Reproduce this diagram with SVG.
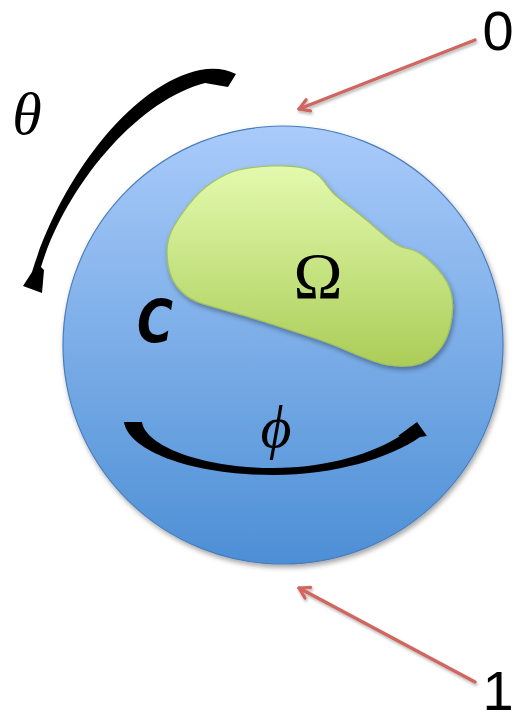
<svg xmlns="http://www.w3.org/2000/svg" width="519" height="723" viewBox="0 0 519 723">
<defs>
<linearGradient id="gBall" x1="0" y1="0" x2="0" y2="1">
<stop offset="0" stop-color="#a9cbfa"/>
<stop offset="1" stop-color="#4d8fd5"/>
</linearGradient>
<linearGradient id="gBlob" x1="0" y1="0" x2="0" y2="1">
<stop offset="0" stop-color="#e3faae"/>
<stop offset="1" stop-color="#abcd58"/>
</linearGradient>
<filter id="sh" x="-20%" y="-20%" width="140%" height="140%">
<feDropShadow dx="1.5" dy="3" stdDeviation="2.5" flood-color="#000" flood-opacity="0.35"/>
</filter>
<filter id="shl" filterUnits="userSpaceOnUse" x="0" y="0" width="519" height="723">
<feDropShadow dx="1" dy="2" stdDeviation="1.5" flood-color="#000" flood-opacity="0.3"/>
</filter>
<marker id="open" viewBox="0 0 16 16" refX="13" refY="8" markerWidth="16" markerHeight="16" markerUnits="userSpaceOnUse" orient="auto">
<path d="M3,2 L13,8 L3,14" fill="none" stroke="#cf6660" stroke-width="3.2" stroke-linecap="round" stroke-linejoin="round"/>
</marker>
<style>
.red{fill:none;stroke:#cf6660;stroke-width:3.4;stroke-linecap:round}
.num{font-family:"Liberation Sans","Open Sans",sans-serif;font-size:56px;fill:#000}
.math{font-family:"Liberation Serif","DejaVu Serif",serif;fill:#000}
.black{fill:#000}
</style>
</defs>
<g id="sphere">
<ellipse cx="283" cy="345" rx="220" ry="219" fill="url(#gBall)" stroke="#4a7dbb" stroke-width="1.2" filter="url(#sh)"/>
</g>
<g id="omega">
<path d="M 271.5,166 Q 293,165 305,168.5 Q 317,172 323.5,181 Q 330,190 333.5,193.5 Q 337,197 352,208.5 Q 367,220 382,233.5 Q 397,247 407,248.5 Q 417,250 428.5,260 Q 440,270 446.5,281.5 Q 453,293 452.5,308 Q 452,323 447.5,335 Q 443,347 433,356 Q 423,365 406.5,366 Q 390,367 373.5,361 Q 357,355 343.5,349 Q 330,343 310,336.5 Q 290,330 270,323.5 Q 250,317 233.5,312.5 Q 217,308 203.5,304 Q 190,300 181.5,291.5 Q 173,283 170,273 Q 167,263 167,251.5 Q 167,240 172,230 Q 177,220 188.5,205 Q 200,190 213.5,181.5 Q 227,173 238.5,170 Q 250,167 271.5,166 Z" fill="url(#gBlob)" stroke="#a3c35a" stroke-width="1.2" filter="url(#sh)"/>
<text class="math" x="318" y="298" font-size="66" text-anchor="middle">Ω</text>
</g>
<g id="curve-label">
<text x="155" y="342" font-family="DejaVu Sans, sans-serif" font-style="oblique" font-weight="bold" font-size="58" text-anchor="middle" textLength="36" lengthAdjust="spacingAndGlyphs">C</text>
</g>
<g id="theta">
<path class="black" d="M 236,74 Q 220,66 200,70 C 130,85 60,180 32,272 L 23,286 L 42,293 L 44,270 L 41,267 C 66,185 138,100 205,83 L 228,87 Z"/>
<text class="math" x="27" y="134" font-size="60" font-style="italic" text-anchor="middle">θ</text>
</g>
<g id="phi">
<path class="black" d="M 124,422 L 142,422 C 145,445 200,468 273,468 C 330,468 375,452 400,436 L 398,436 L 417,422 L 427,436 L 420,437 C 390,458 335,475 273,475 C 190,475 128,450 124,422 Z"/>
<text class="math" x="276" y="447" font-size="60" font-style="italic" text-anchor="middle">ϕ</text>
</g>
<g id="label-0">
<text class="num" x="498" y="50" text-anchor="middle">0</text>
</g>
<g id="label-1">
<text class="num" x="498" y="710" text-anchor="middle">1</text>
</g>
<g id="connectors">
<line class="red" x1="475" y1="40" x2="299" y2="109" marker-end="url(#open)" filter="url(#shl)"/>
<line class="red" x1="475" y1="682" x2="299" y2="588" marker-end="url(#open)" filter="url(#shl)"/>
</g>
</svg>
